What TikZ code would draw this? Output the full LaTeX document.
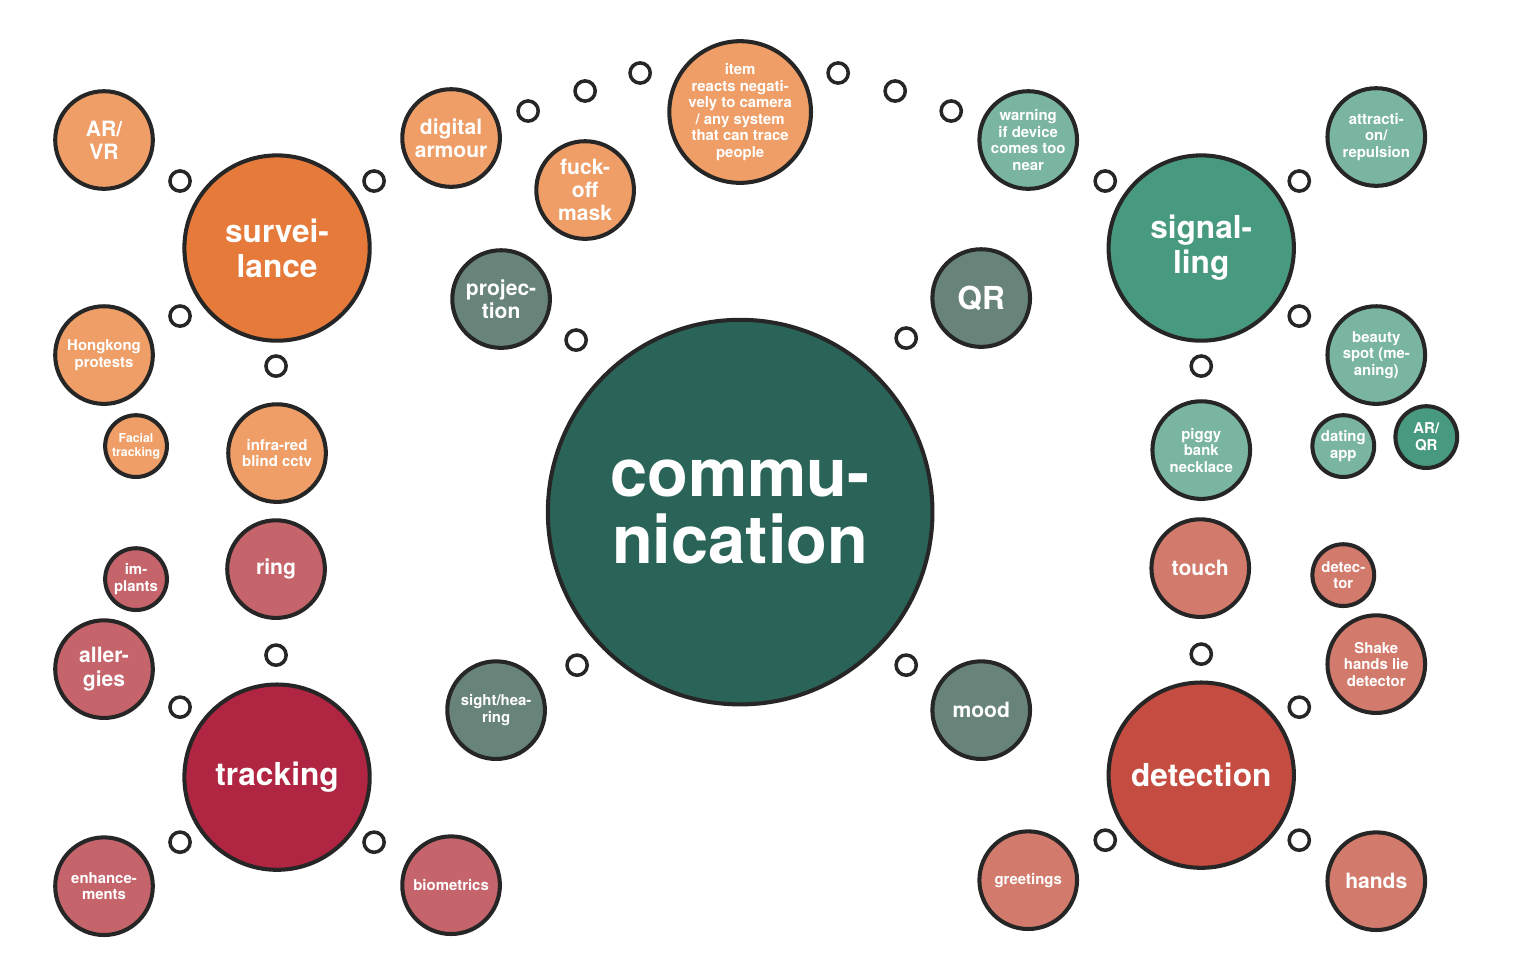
\documentclass[tikz,border=0pt]{standalone}
\usepackage{fontspec}
\setmainfont{TeX Gyre Heros}
\definecolor{cOr}{HTML}{E57A3A}
\definecolor{cLo}{HTML}{EE9E66}
\definecolor{cCe}{HTML}{2A6358}
\definecolor{cSi}{HTML}{47997F}
\definecolor{cLt}{HTML}{7AB5A2}
\definecolor{cGr}{HTML}{68847A}
\definecolor{cTr}{HTML}{B02541}
\definecolor{cPk}{HTML}{C5646B}
\definecolor{cDe}{HTML}{C44C41}
\definecolor{cSa}{HTML}{D27B6C}
\tikzset{
 bub/.style={circle,draw=black!85,line width=2.3pt,text=white,align=center,inner sep=0pt},
 dot/.style={circle,draw=black!85,line width=2pt,fill=white,minimum size=11.5pt,inner sep=0pt}
}
% name, x, y, radius(px), color, fontsize(pt), text
\newcommand{\bubnode}[7]{\node[bub,fill=#5,minimum size=#4*1.134pt,font=\fontsize{#6pt}{1.1\dimexpr #6pt\relax}\selectfont\bfseries] (#1) at (#2*0.02,-#3*0.02) {#7};}
\begin{document}
\begin{tikzpicture}
\useasboundingbox (0,0) rectangle (30.44,-19.52);
\bubnode{cen}{740}{512}{193}{cCe}{38}{commu-\\[-4pt]nication}
\bubnode{sur}{277}{248}{93}{cOr}{18}{survei-\\lance}
\bubnode{tra}{277}{777}{93}{cTr}{18}{tracking}
\bubnode{sig}{1201}{248}{93}{cSi}{18}{signal-\\ling}
\bubnode{det}{1201}{775}{93}{cDe}{18}{detection}
\bubnode{arvr}{104}{140}{49}{cLo}{12}{AR/\\VR}
\bubnode{dig}{451}{138}{49}{cLo}{12}{digital\\armour}
\bubnode{fuck}{585}{190}{49}{cLo}{12}{fuck-\\off\\mask}
\bubnode{item}{740}{112}{70}{cLo}{8.5}{item\\reacts negati-\\vely to camera\\/ any system\\that can trace\\people}
\bubnode{warn}{1028}{140}{49}{cLt}{8.5}{warning\\if device\\comes too\\near}
\bubnode{attr}{1376}{137}{49}{cLt}{8.5}{attracti-\\on/\\repulsion}
\bubnode{proj}{501}{299}{49}{cGr}{12}{projec-\\tion}
\bubnode{qr}{981}{298}{49}{cGr}{18}{QR}
\bubnode{hk}{104}{355}{49}{cLo}{8.5}{Hongkong\\protests}
\bubnode{fac}{136}{446}{31}{cLo}{7}{Facial\\tracking}
\bubnode{inf}{277}{453}{49}{cLo}{8.5}{infra-red\\blind cctv}
\bubnode{beau}{1376}{355}{49}{cLt}{8.5}{beauty\\spot (me-\\aning)}
\bubnode{pig}{1201}{450}{49}{cLt}{8.5}{piggy\\bank\\necklace}
\bubnode{dat}{1343}{446}{31}{cLt}{8.5}{dating\\app}
\bubnode{arqr}{1426}{437}{31}{cSi}{8.5}{AR/\\QR}
\bubnode{ring}{276}{569}{49}{cPk}{12}{ring}
\bubnode{imp}{136}{579}{31}{cPk}{8.5}{im-\\plants}
\bubnode{all}{104}{669}{49}{cPk}{12}{aller-\\gies}
\bubnode{sight}{496}{710}{49}{cGr}{8.5}{sight/hea-\\ring}
\bubnode{mood}{981}{710}{49}{cGr}{12}{mood}
\bubnode{touch}{1200}{568}{49}{cSa}{12}{touch}
\bubnode{dtor}{1343}{575}{31}{cSa}{8.5}{detec-\\tor}
\bubnode{shake}{1376}{664}{49}{cSa}{8.5}{Shake\\hands lie\\detector}
\bubnode{enh}{104}{886}{49}{cPk}{8.5}{enhance-\\ments}
\bubnode{bio}{451}{885}{49}{cPk}{8.5}{biometrics}
\bubnode{gre}{1028}{880}{49}{cSa}{8.5}{greetings}
\bubnode{han}{1376}{881}{49}{cSa}{12}{hands}
\foreach \x/\y [count=\i] in {180/181,374/181,180/316,276/366,528/111,585/91,640/73,838/73,895/91,951/111,1105/181,1299/181,1299/316,1201/366,576/340,906/338,577/665,906/665,276/655,180/707,180/842,374/842,1201/654,1299/707,1105/840,1299/840}
  \node[dot] (d\i) at (\x*0.02,-\y*0.02) {};
\end{tikzpicture}
\end{document}
